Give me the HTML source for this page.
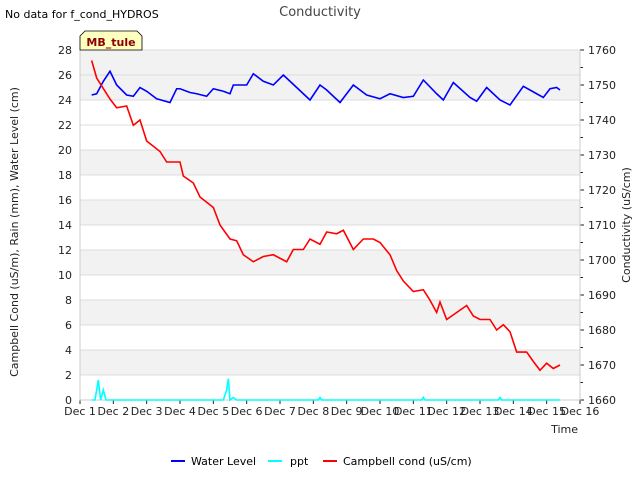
<!DOCTYPE html>
<html><head><meta charset="utf-8"><style>
body{margin:0;background:#fff;font-family:"DejaVu Sans","Liberation Sans",sans-serif;}
svg text{font-family:"DejaVu Sans","Liberation Sans",sans-serif;}
</style></head><body>
<svg id="c" width="640" height="480" xmlns="http://www.w3.org/2000/svg">
<text x="5" y="18" font-size="11" fill="#000">No data for f_cond_HYDROS</text>
<text x="320" y="16" font-size="13" fill="#444" text-anchor="middle">Conductivity</text>
<g id="plot"></g>
<text x="18" y="232" font-size="11" fill="#222" text-anchor="middle" transform="rotate(-90 18 232)">Campbell Cond (uS/m), Rain (mm), Water Level (cm)</text>
<text x="630" y="225" font-size="11" fill="#222" text-anchor="middle" transform="rotate(-90 630 225)">Conductivity (uS/cm)</text>
<text x="578" y="433" font-size="11" fill="#222" text-anchor="end">Time</text>
<g>
<line x1="171" y1="461" x2="185" y2="461" stroke="#0000ff" stroke-width="2"/>
<text x="191" y="465" font-size="11">Water Level</text>
<line x1="268" y1="461" x2="282" y2="461" stroke="#00ffff" stroke-width="2"/>
<text x="290" y="465" font-size="11">ppt</text>
<line x1="323" y1="461" x2="337" y2="461" stroke="#ff0000" stroke-width="2"/>
<text x="343" y="465" font-size="11">Campbell cond (uS/cm)</text>
</g>
<g>
<path d="M80,50 L80,36 L85,31 L137,31 L142,36 L142,50 Z" fill="#ffffc0" stroke="#000" stroke-width="0.8"/>
<text x="111" y="46" font-size="11" font-weight="bold" fill="#8b0000" text-anchor="middle">MB_tule</text>
</g>
</svg>
<script>
const wlDays=[1.35,1.5,1.7,1.9,2.1,2.4,2.6,2.8,3.0,3.3,3.7,3.9,4.0,4.3,4.5,4.8,5.0,5.3,5.5,5.6,6.0,6.2,6.5,6.8,7.1,7.5,7.9,8.2,8.4,8.8,9.2,9.6,10.0,10.3,10.7,11.0,11.3,11.7,11.9,12.2,12.7,12.9,13.2,13.6,13.9,14.3,14.7,14.9,15.1,15.3,15.4];
const wlVals=[24.4,24.5,25.5,26.3,25.2,24.4,24.3,25.0,24.7,24.1,23.8,24.9,24.9,24.6,24.5,24.3,24.9,24.7,24.5,25.2,25.2,26.1,25.5,25.2,26.0,25.0,24.0,25.2,24.8,23.8,25.2,24.4,24.1,24.5,24.2,24.3,25.6,24.5,24.0,25.4,24.2,23.9,25.0,24.0,23.6,25.1,24.5,24.2,24.9,25.0,24.8];
const pptDays=[1.35,1.45,1.55,1.62,1.7,1.78,5.3,5.4,5.45,5.5,5.6,5.7,8.15,8.2,8.25,11.25,11.3,11.35,13.55,13.6,13.65,15.4];
const pptVals=[0,0,1.6,0,0.8,0,0,0.8,1.7,0,0.2,0,0,0.2,0,0,0.2,0,0,0.2,0,0];
const condDays=[1.35,1.5,1.9,2.1,2.4,2.6,2.8,3.0,3.4,3.6,4.0,4.1,4.4,4.6,5.0,5.2,5.5,5.7,5.9,6.2,6.5,6.8,7.0,7.2,7.4,7.7,7.9,8.2,8.4,8.7,8.9,9.2,9.5,9.8,10.0,10.3,10.5,10.7,11.0,11.3,11.5,11.7,11.8,12.0,12.3,12.6,12.8,13.0,13.3,13.5,13.7,13.9,14.1,14.4,14.6,14.8,15.0,15.2,15.4];
const condVals=[1757,1752,1746,1743.5,1744,1738.5,1740,1734,1731,1728,1728,1724,1722,1718,1715,1710,1706,1705.5,1701.5,1699.5,1701,1701.5,1700.5,1699.5,1703,1703,1706,1704.5,1708,1707.5,1708.5,1703,1706,1706,1705,1701.5,1697,1694,1691,1691.5,1688.5,1685,1688,1683,1685,1687,1684,1683,1683,1680,1681.5,1679.5,1673.7,1673.7,1671,1668.5,1670.5,1669,1670];
const leftTicks=[0,2,4,6,8,10,12,14,16,18,20,22,24,26,28];
const rightTicks=[1660,1670,1680,1690,1700,1710,1720,1730,1740,1750,1760];
const xTickDays=[1,2,3,4,5,6,7,8,9,10,11,12,13,14,15,16];
const greyBands=[[2,4],[6,8],[10,12],[14,16],[18,20],[24,28]];

const X0=80,X1=580,YT=50,YB=400;
const xs=d=>X0+(d-1)*(X1-X0)/15;
const yl=v=>YB-v*(YB-YT)/28;
const yr=v=>YB-(v-1660)*(YB-YT)/100;
const NS="http://www.w3.org/2000/svg";
const g=document.getElementById('plot');
function mk(t,a){const e=document.createElementNS(NS,t);for(const k in a)e.setAttribute(k,a[k]);g.appendChild(e);return e;}

const bg=mk('rect',{x:X0,y:YT,width:X1-X0,height:YB-YT,fill:'#fff'});


greyBands.forEach(b=>{const r=mk('rect',{x:X0,y:yl(b[1]),width:X1-X0,height:yl(b[0])-yl(b[1]),fill:'#f2f2f2'});

});
leftTicks.forEach(v=>{const l=mk('line',{x1:X0,x2:X1,y1:yl(v),y2:yl(v),stroke:'#dcdcdc','stroke-width':1});


const t=mk('text',{x:X0-8,y:yl(v)+4,'font-size':11,fill:'#222','text-anchor':'end'});t.textContent=v;

});
rightTicks.forEach((v,i)=>{const l=mk('line',{x1:X1,x2:X1+4,y1:yr(v),y2:yr(v),stroke:'#222'});


if(i<rightTicks.length-1){const m=mk('line',{x1:X1,x2:X1+3,y1:yr(v+5),y2:yr(v+5),stroke:'#222'});

}
const t=mk('text',{x:X1+8,y:yr(v)+4,'font-size':11,fill:'#222'});t.textContent=v;

});
xTickDays.forEach(d=>{const l=mk('line',{x1:xs(d),x2:xs(d),y1:YB,y2:YB+4,stroke:'#222'});


const t=mk('text',{x:xs(d),y:YB+15,'font-size':11,fill:'#222','text-anchor':'middle'});t.textContent='Dec '+d;

});
const ax=mk('path',{d:`M${X0},${YT}V${YB}H${X1}V${YT}`,fill:'none',stroke:'#ccc'});



function line(days,vals,sc,col,name){const p=mk('polyline',{points:days.map((d,i)=>xs(d)+','+sc(vals[i])).join(' '),fill:'none',stroke:col,'stroke-width':1.6});

}
line(pptDays,pptVals,yl,'#00ffff','ppt-line');
line(wlDays,wlVals,yl,'#0000ff','water-level-line');
line(condDays,condVals,yr,'#ff0000','campbell-cond-line');
</script>
</body></html>
